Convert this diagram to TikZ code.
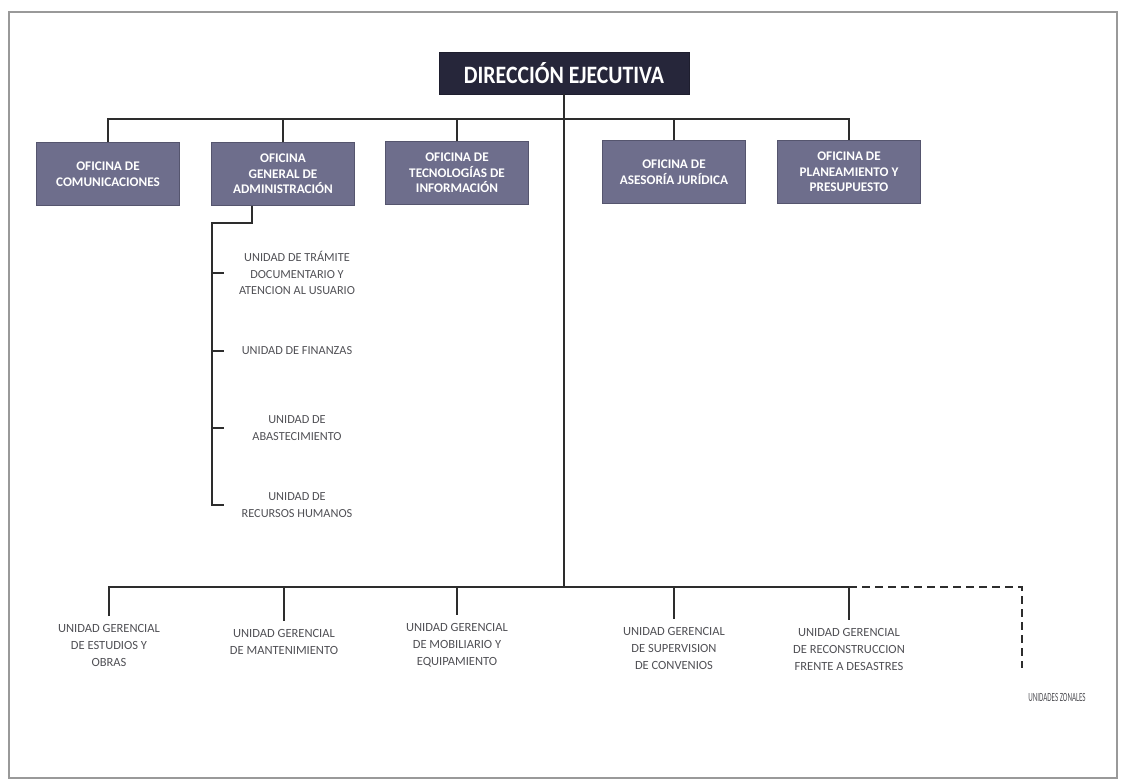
\documentclass[tikz,border=0pt]{standalone}
\usepackage{fontspec}
\setmainfont{Carlito}
\usepackage{graphicx}
\definecolor{navy}{RGB}{38,38,58}
\definecolor{slate}{RGB}{110,110,140}
\definecolor{slateedge}{RGB}{85,85,110}
\definecolor{ink}{RGB}{45,45,45}
\definecolor{lbl}{RGB}{80,80,85}
\begin{document}
\begin{tikzpicture}[x=1pt,y=-1pt,
  line/.style={draw=ink,line width=1.9pt},
  dline/.style={draw=ink,line width=2.2pt,dash pattern=on 8pt off 5pt},
  topbox/.style={fill=navy,draw=navy!80!black,minimum width=250pt,minimum height=42pt,text=white,font=\bfseries\fontsize{25}{28}\selectfont},
  office/.style={fill=slate,draw=slateedge,line width=0.8pt,minimum width=143pt,minimum height=63pt,text=white,align=center,font=\bfseries\fontsize{13.2}{15.5}\selectfont},
  unit/.style={text=lbl,align=center,font=\fontsize{12.3}{16.5}\selectfont,inner sep=0pt},
  gerencia/.style={text=lbl,align=center,font=\fontsize{12.5}{17}\selectfont,anchor=north,inner xsep=0pt,inner ysep=8pt},
  zonal/.style={text=lbl,font=\fontsize{12.5}{14}\selectfont,inner sep=0pt}
]
\useasboundingbox (0,0) rectangle (1121,780);
\draw[draw=gray!80,line width=1.6pt] (9,12) rectangle (1117,778);

% top
\node[topbox] (dir) at (564,73) {\scalebox{0.87}[1]{DIRECCIÓN EJECUTIVA}};

% offices
\node[office] (com) at (108,174) {OFICINA DE\\COMUNICACIONES};
\node[office] (adm) at (283,174) {OFICINA\\GENERAL DE\\ADMINISTRACIÓN};
\node[office] (tec) at (457,173) {OFICINA DE\\TECNOLOGÍAS DE\\INFORMACIÓN};
\node[office] (jur) at (674,172) {OFICINA DE\\ASESORÍA JURÍDICA};
\node[office] (pla) at (849,172) {OFICINA DE\\PLANEAMIENTO Y\\PRESUPUESTO};

% bus levels
\coordinate (busT) at (0,119);
\coordinate (busB) at (0,587);

\draw[line] (com.north) -- (com.north |- busT) -- (pla.north |- busT) -- (pla.north);
\foreach \n in {adm,tec,jur} \draw[line] (\n.north) -- (\n.north |- busT);
\draw[line] (dir.south) -- (dir.south |- busB);

% administration units
\node[unit] (tram) at (297,273) {UNIDAD DE TRÁMITE\\DOCUMENTARIO Y\\ATENCION AL USUARIO};
\node[unit] (fin) at (297,351) {UNIDAD DE FINANZAS};
\node[unit] (abas) at (297,428) {UNIDAD DE\\ABASTECIMIENTO};
\node[unit] (rrhh) at (297,505) {UNIDAD DE\\RECURSOS HUMANOS};

\coordinate (spine) at (212,223);
\coordinate (admout) at (252,0);
\draw[line] (adm.south -| admout) -- (admout |- spine) -- (spine) -- (spine |- rrhh) -- ++(12,0);
\foreach \n in {tram,fin,abas} \draw[line] (spine |- \n) -- ++(12,0);

% gerencias
\node[gerencia] (ug1) at (109,616) {UNIDAD GERENCIAL\\DE ESTUDIOS Y\\OBRAS};
\node[gerencia] (ug2) at (284,621) {UNIDAD GERENCIAL\\DE MANTENIMIENTO};
\node[gerencia] (ug3) at (457,615) {UNIDAD GERENCIAL\\DE MOBILIARIO Y\\EQUIPAMIENTO};
\node[gerencia] (ug4) at (674,619) {UNIDAD GERENCIAL\\DE SUPERVISION\\DE CONVENIOS};
\node[gerencia] (ug5) at (849,620) {UNIDAD GERENCIAL\\DE RECONSTRUCCION\\FRENTE A DESASTRES};

\draw[line] (ug1.north) -- (ug1.north |- busB) -- (ug5.north |- busB) -- (ug5.north);
\foreach \n in {ug2,ug3,ug4} \draw[line] (\n.north |- busB) -- (\n.north);

% zonal units
\coordinate (zc) at (1022,587);
\coordinate (zend) at (1022,668);
\draw[dline] (ug5.north |- busB) -- (zc) -- (zend);
\node[zonal] (zon) at (1057,697) {\scalebox{0.56}[1]{UNIDADES ZONALES}};
\end{tikzpicture}
\end{document}
